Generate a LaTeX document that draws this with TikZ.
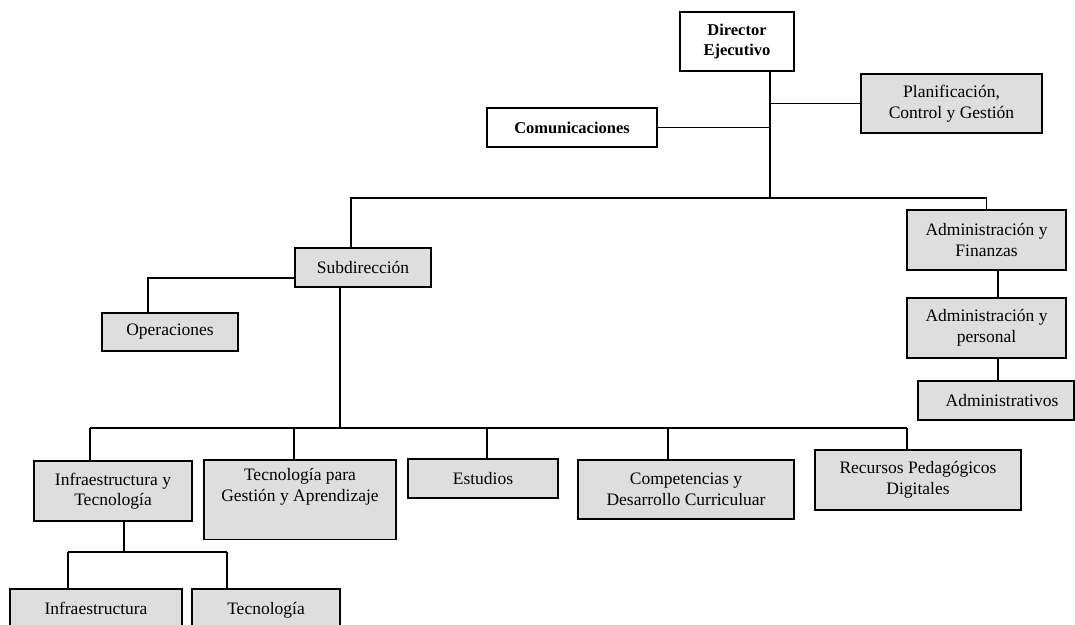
\documentclass[tikz,border=0pt]{standalone}
\usepackage{fontspec}
\setmainfont{Liberation Serif}
\definecolor{boxgray}{HTML}{DEDEDE}

\begin{document}
\begin{tikzpicture}[
 x=1pt, y=-1pt,
 unit/.style={draw, line width=1.6pt, fill=boxgray, align=center, inner sep=0pt,
   font=\fontsize{17.5}{20.5}\selectfont},
 head/.style={unit, fill=white, font=\fontsize{16.5}{20}\selectfont\bfseries},
 link/.style={line width=1.1pt}
]
\useasboundingbox (0,0) rectangle (1075,624);

% top level
\node [head, minimum width=114pt, minimum height=59pt] (dir) at (737,41.5) {Director\\Ejecutivo};
\node [unit, minimum width=181pt, minimum height=59pt] (plan) at (951.5,103.5) {Planificación,\\Control y Gestión};
\node [head, minimum width=170pt, minimum height=39pt] (com) at (572,127.5) {Comunicaciones};

% second level
\node [unit, minimum width=136pt, minimum height=39pt] (sub) at (363,267.5) {Subdirección};
\node [unit, minimum width=159pt, minimum height=60pt] (fin) at (986.5,240) {Administración y\\Finanzas};
\node [unit, minimum width=159pt, minimum height=60pt] (per) at (986.5,328) {Administración y\\personal};
\node [unit, minimum width=156pt, minimum height=39pt] (adm) at (996,400.5) {\hspace{12pt}Administrativos};
\node [unit, minimum width=136pt, minimum height=38pt] (ope) at (170,332) {Operaciones};

% areas under Subdireccion
\node [unit, minimum width=158pt, minimum height=60pt] (iyt) at (113,491) {Infraestructura y\\Tecnología};
\node [unit, anchor=north, minimum width=192pt, inner ysep=9pt, text depth=29pt] (tga) at (300,459) {Tecnología para\\Gestión y Aprendizaje};
\node [unit, minimum width=150pt, minimum height=39pt] (est) at (483,478.5) {Estudios};
\node [unit, minimum width=216pt, minimum height=59pt] (cdc) at (686,489.5) {Competencias y\\Desarrollo Curriculuar};
\node [unit, minimum width=206pt, minimum height=60pt] (rpd) at (918,480) {Recursos Pedagógicos\\Digitales};
\node [unit, minimum width=172pt, minimum height=42pt, text height=12pt, text depth=4pt] (inf) at (96,610) {Infraestructura};
\node [unit, minimum width=148pt, minimum height=42pt, text height=12pt, text depth=4pt] (tec) at (266,610) {Tecnología};

% connectors
\coordinate (top) at (770,198);
\draw [link] (top |- dir.south) -- (top);
\draw [link] (top |- plan.west) -- (plan.west);
\draw [link] (com.east) -- (com.east -| top);
\coordinate (left) at (351,198);
\draw [link] (left |- sub.north) -- (left) -- (fin.north |- left) -- (fin.north);
\coordinate (side) at (998,0);
\draw [link] (side |- fin.south) -- (side |- per.north);
\draw [link] (side |- per.south) -- (side |- adm.north);
\coordinate (opj) at (148,278);
\draw [link] (opj -| sub.west) -- (opj) -- (opj |- ope.north);
\coordinate (bus) at (340,428);
\draw [link] (bus |- sub.south) -- (bus);
\foreach \n/\x in {iyt/90, tga/294, est/487, cdc/668, rpd/907} {
  \coordinate (b\n) at (\x,428);
  \draw [link] (b\n) -- (b\n |- \n.north);
}
\draw [link] (biyt) -- (brpd);
\coordinate (ij) at (124,552);
\draw [link] (ij |- iyt.south) -- (ij);
\coordinate (iL) at (68,552);
\coordinate (iR) at (227,552);
\draw [link] (iL) -- (iR);
\draw [link] (iL) -- (iL |- inf.north);
\draw [link] (iR) -- (iR |- tec.north);
\end{tikzpicture}
\end{document}
